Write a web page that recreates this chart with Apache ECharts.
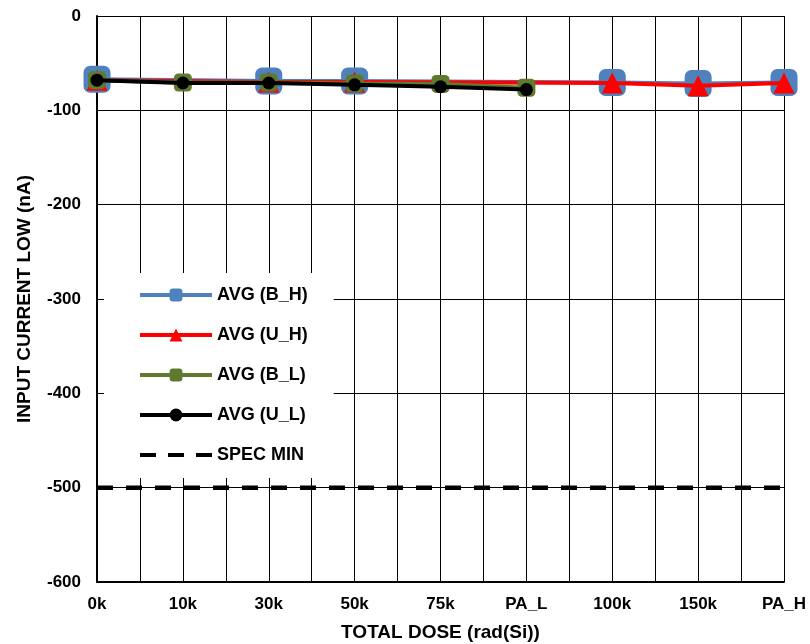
<!DOCTYPE html>
<html>
<head>
<meta charset="utf-8">
<script src="https://cdn.jsdelivr.net/npm/echarts@6/dist/echarts.min.js"></script>
<style>html,body{margin:0;padding:0;background:#fff}#c{width:810px;height:644px}</style>
</head>
<body>
<div id="c"></div>
<script>
var categories = ['0k','10k','30k','50k','75k','PA_L','100k','150k','PA_H'];
var avgBH = [-67, null, -69, -69, null, null, -70.5, -71.5, -70.5];
var avgUH = [-68, null, -70, -70, null, null, -71, -74, -71];
var avgBL = [-68, -70.5, -70.5, -71.5, -72, -76, null, null, null];
var avgUL = [-68, -71, -71, -73, -75, -78, null, null, null];
var specMin = [-500, -500, -500, -500, -500, -500, -500, -500, -500];
var yTicks = {min: -600, max: 0, interval: 100};

function pts(arr){ return arr.map(function(v,i){ return [i, v]; }); }
var FONT = 'Liberation Sans, Arial, sans-serif';
var chart = echarts.init(document.getElementById('c'), null, {renderer:'canvas'});
chart.setOption({
  animation: false,
  backgroundColor: '#ffffff',
  grid: {left: 97, right: 26, top: 16, bottom: 62, containLabel: false, outerBoundsMode: 'none'},
  legend: {
    left: 104, top: 273, orient: 'vertical',
    backgroundColor: '#ffffff',
    padding: [13, 26, 14, 34],
    itemWidth: 72, itemHeight: 16, itemGap: 22,
    lineStyle: {width: 4},
    textStyle: {fontFamily: FONT, fontWeight: 'bold', fontSize: 18, color: '#000'},
    data: [
      {name: 'AVG (B_H)'},
      {name: 'AVG (U_H)'},
      {name: 'AVG (B_L)'},
      {name: 'AVG (U_L)'},
      {name: 'SPEC MIN', itemStyle: {opacity: 0}, lineStyle: {type: [16, 12]}}
    ]
  },
  xAxis: {
    type: 'value', min: 0, max: categories.length - 1, interval: 0.5,
    name: 'TOTAL DOSE (rad(Si))', nameLocation: 'middle', nameGap: 41,
    nameTextStyle: {fontFamily: FONT, fontWeight: 'bold', fontSize: 19, color: '#000'},
    axisLine: {show: true, onZero: false, lineStyle: {color: '#000', width: 2}},
    axisTick: {show: false},
    splitLine: {show: true, lineStyle: {color: '#000', width: 1}},
    axisLabel: {
      margin: 14, fontFamily: FONT, fontWeight: 'bold', fontSize: 17, color: '#000',
      showMaxLabel: true, showMinLabel: true,
      formatter: function(v){ return Number.isInteger(v) ? categories[v] : ''; }
    }
  },
  yAxis: {
    type: 'value', min: yTicks.min, max: yTicks.max, interval: yTicks.interval,
    name: 'INPUT CURRENT LOW (nA)', nameLocation: 'middle', nameGap: 63,
    nameTextStyle: {fontFamily: FONT, fontWeight: 'bold', fontSize: 19, color: '#000'},
    axisLine: {show: true, onZero: false, lineStyle: {color: '#000', width: 2}},
    axisTick: {show: false},
    splitLine: {show: true, lineStyle: {color: '#000', width: 1}},
    axisLabel: {margin: 16, fontFamily: FONT, fontWeight: 'bold', fontSize: 17, color: '#000'}
  },
  series: [
    {name: 'AVG (B_H)', type: 'line', data: pts(avgBH), connectNulls: true,
     symbol: 'roundRect', symbolSize: 27, z: 2,
     itemStyle: {color: '#4F81BD'}, lineStyle: {color: '#4F81BD', width: 4}},
    {name: 'AVG (U_H)', type: 'line', data: pts(avgUH), connectNulls: true,
     symbol: 'triangle', symbolSize: [21, 21], z: 3,
     itemStyle: {color: '#FF0000'}, lineStyle: {color: '#FF0000', width: 4}},
    {name: 'AVG (B_L)', type: 'line', data: pts(avgBL), connectNulls: true,
     symbol: 'roundRect', symbolSize: 18, z: 4,
     itemStyle: {color: '#5F7A2F'}, lineStyle: {color: '#5F7A2F', width: 4}},
    {name: 'AVG (U_L)', type: 'line', data: pts(avgUL), connectNulls: true,
     symbol: 'circle', symbolSize: 13, z: 5,
     itemStyle: {color: '#000000'}, lineStyle: {color: '#000000', width: 4}},
    {name: 'SPEC MIN', type: 'line', data: pts(specMin), symbol: 'none', z: 1,
     itemStyle: {color: '#000000'}, lineStyle: {color: '#000000', width: 4.5, type: [16, 13]}}
  ]
});
</script>
</body>
</html>
